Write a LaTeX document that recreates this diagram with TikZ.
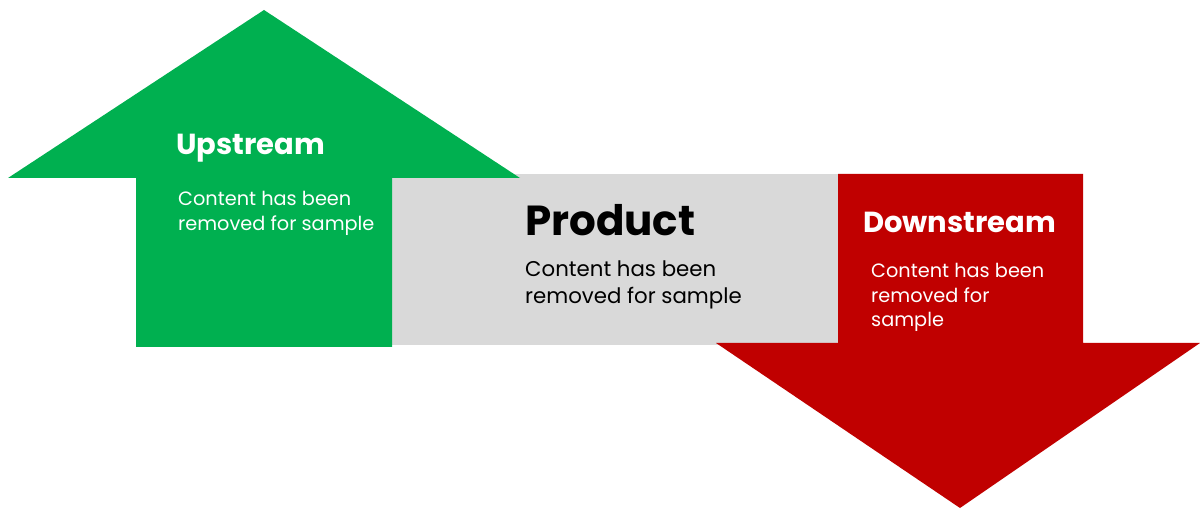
\documentclass[tikz,border=0pt]{standalone}
\usepackage{fontspec}
\setmainfont{Poppins}
\definecolor{upgreen}{HTML}{00B050}
\definecolor{prodgray}{HTML}{D9D9D9}
\definecolor{downred}{HTML}{C00000}
\tikzset{
  title/.style={anchor=base west, inner sep=0pt, font=\bfseries\fontsize{29}{34}\selectfont},
  body/.style={anchor=base west, inner sep=0pt, align=left, font=\fontsize{19.3}{24.5}\selectfont},
}
\begin{document}
\begin{tikzpicture}[x=1pt,y=-1pt]
\useasboundingbox (0,0) rectangle (1200,510);
% product band
\fill[prodgray] (392,174) rectangle (838,345);
% upstream arrow
\fill[upgreen] (264,10) -- (520,178) -- (392,178) -- (392,347) -- (136,347) -- (136,178) -- (8,178) -- cycle;
% downstream arrow
\fill[downred] (838,174) -- (1083,174) -- (1083,343) -- (1200,343) -- (960,508) -- (716,343) -- (838,343) -- cycle;
% texts (base anchor = baseline of last line)
\node[title, text=white] (uptitle) at (176,155) {Upstream};
\node[body, text=white] (upbody) at (178,230.5) {Content has been\\removed for sample};
\node[title, text=black, font=\bfseries\fontsize{42}{48}\selectfont] (prodtitle) at (525,236) {Product};
\node[body, text=black, font=\fontsize{21.3}{27}\selectfont] (prodbody) at (525,304) {Content has been\\removed for sample};
\node[title, text=white] (downtitle) at (863,233) {Downstream};
\node[body, text=white] (downbody) at (871,327) {Content has been\\removed for\\sample};
\end{tikzpicture}
\end{document}
